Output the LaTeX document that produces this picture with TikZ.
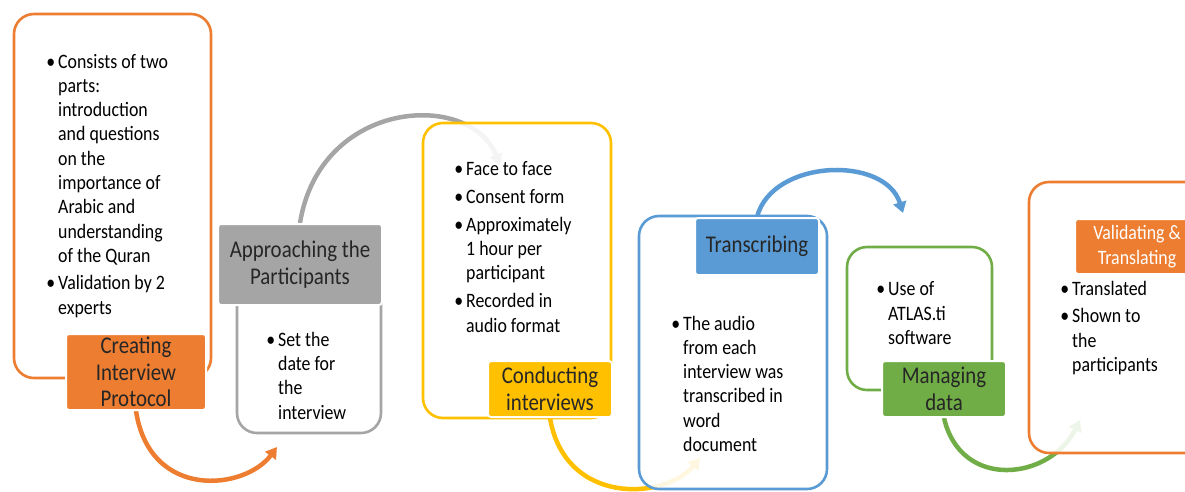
\documentclass[tikz,border=0pt]{standalone}
\usepackage{fontspec}
\setmainfont{Carlito}[FakeStretch=0.87]
\usetikzlibrary{arrows.meta,backgrounds}

\definecolor{orng}{HTML}{ED7D31}
\definecolor{grey}{HTML}{A5A5A5}
\definecolor{gold}{HTML}{FFC000}
\definecolor{sky}{HTML}{5B9BD5}
\definecolor{leaf}{HTML}{70AD47}
\newcommand{\itm}{\llap{\textbullet\hspace{3pt}}}

\begin{document}
\begin{tikzpicture}[
  x=1pt, y=-1pt,
  panel/.style={draw=#1, line width=2.6pt, rounded corners=20pt, fill=white,
    fill opacity=0.88, text opacity=1, inner sep=0pt},
  tag/.style={fill=#1, draw=white, line width=2pt, rounded corners=3pt,
    align=center, inner sep=0pt, text=black!85,
    font=\fontsize{24}{26.7}\selectfont},
  notes/.style={anchor=base west, align=left, inner sep=0pt,
    font=\fontsize{20.5}{24.3}\selectfont},
  flow/.style={draw=#1, line width=4.5pt, -{Triangle[length=11pt,width=13pt]}}
  ]
  \useasboundingbox (0,0) rectangle (1185,491);
  \clip (0,0) rectangle (1185,491);

  \node[panel=orng, minimum width=197pt, minimum height=364pt] (f01) at (112.5,196) {};
  \node[panel=grey, minimum width=144pt, minimum height=193pt] (f02) at (309,336.5) {};
  \node[panel=gold, minimum width=188pt, minimum height=295pt] (f03) at (517,270.5) {};
  \node[panel=sky,  minimum width=188pt, minimum height=273pt] (f04) at (733,352.5) {};
  \node[panel=leaf, minimum width=145pt, minimum height=143pt] (f05) at (919.5,318.5) {};
  \node[panel=orng, minimum width=186pt, minimum height=271pt] (f06) at (1122,317.5) {};

  \node[tag=orng, minimum width=140pt, minimum height=76pt] (t01) at (136,372)
    {Creating\\Interview\\Protocol};
  \node[tag=grey, minimum width=164pt, minimum height=81pt] (t02) at (300,264.5)
    {Approaching the\\Participants};
  \node[tag=gold, minimum width=124pt, minimum height=56pt] (t03) at (550,389)
    {Conducting\\interviews};
  \node[tag=sky,  minimum width=124pt, minimum height=57pt] (t04) at (757,246.5)
    {Transcribing};
  \node[tag=leaf, minimum width=124pt, minimum height=56pt] (t05) at (944,389)
    {Managing\\data};
  \node[tag=orng, minimum width=124pt, minimum height=55pt, text=white,
    font=\fontsize{20.5}{25}\selectfont] (t06) at (1137,246.5)
    {Validating \&\\Translating};

  % base of the last line
  \node[notes] (p01) at (58,314) {\itm Consists of two\\parts:\\introduction\\
    and questions\\on the\\importance of\\Arabic and\\understanding\\of the Quran\\[3pt]
    \itm Validation by 2\\experts};
  \node[notes] (p02) at (278,419) {\itm Set the\\date for\\the\\interview};
  \node[notes] (p03) at (466,332) {\itm Face to face\\[3.5pt]\itm Consent form\\[3.5pt]
    \itm Approximately\\1 hour per\\participant\\[3.5pt]\itm Recorded in\\audio format};
  \node[notes] (p04) at (683,451.5) {\itm The audio\\from each\\interview was\\
    transcribed in\\word\\document};
  \node[notes] (p05) at (888,344.5) {\itm Use of\\ATLAS.ti\\software};
  \node[notes] (p06) at (1072,371.5) {\itm Translated\\[3.5pt]\itm Shown to\\the\\participants};

  % arcs behind the panels
  \begin{pgfonlayer}{background}
    \coordinate (e01) at (277,447);
    \coordinate (e02) at (500,165);
    \coordinate (e03) at (700,458);
    \coordinate (e04) at (903,213);
    \coordinate (e05) at (1080,420);
    \path[flow=orng] (t01.south) .. controls +(14,90) and +(-32,43) .. (e01);
    \path[flow=grey] (t02.north) .. controls +(20,-124) and +(-30,-75) .. (e02);
    \path[flow=gold] (t03.south) .. controls +(15,88) and +(-35,42) .. (e03);
    \path[flow=sky]  (t04.north) .. controls +(15,-58) and +(-18,-58) .. (e04);
    \path[flow=leaf] (t05.south) .. controls +(17,73) and +(-30,60) .. (e05);
  \end{pgfonlayer}
\end{tikzpicture}
\end{document}
